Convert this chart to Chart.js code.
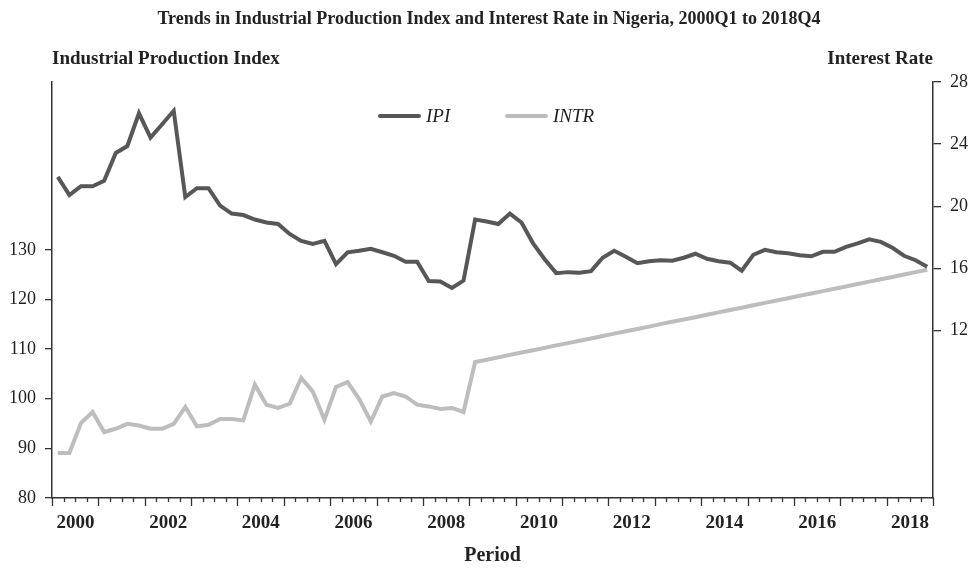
<!DOCTYPE html>
<html>
<head>
<meta charset="utf-8">
<title>IPI and Interest Rate, Nigeria</title>
<script src="https://cdn.jsdelivr.net/npm/chart.js@4.4.1/dist/chart.umd.min.js"></script>
<style>
  html, body { margin: 0; padding: 0; background: #ffffff; }
  #wrap { width: 979px; height: 572px; }
</style>
</head>
<body>
<div id="wrap"><canvas id="chart" width="979" height="572"></canvas></div>
<script>
// quarters 2000Q1 .. 2018Q4
const years = [2000, 2001, 2002, 2003, 2004, 2005, 2006, 2007, 2008, 2009,
  2010, 2011, 2012, 2013, 2014, 2015, 2016, 2017, 2018];
const quarterNames = ['Q1', 'Q2', 'Q3', 'Q4'];
const periods = [];
years.forEach((y) => quarterNames.forEach((q) => periods.push(y + q)));

// Industrial Production Index (left axis)
const ipi = [144.7, 141.0, 142.8, 142.8, 143.9, 149.5, 150.9, 157.5, 152.6, 155.3,
  158.0, 140.6, 142.4, 142.4, 138.9, 137.3, 137.0, 136.1, 135.5, 135.2,
  133.2, 131.8, 131.2, 131.8, 127.1, 129.5, 129.8, 130.2, 129.5, 128.8,
  127.6, 127.6, 123.7, 123.6, 122.3, 123.8, 136.1, 135.7, 135.2, 137.3,
  135.5, 131.3, 128.1, 125.3, 125.5, 125.4, 125.7, 128.4, 129.8, 128.6,
  127.3, 127.7, 127.9, 127.8, 128.4, 129.2, 128.2, 127.7, 127.4, 125.8,
  129.0, 130.0, 129.5, 129.3, 128.9, 128.7, 129.6, 129.6, 130.6, 131.3,
  132.1, 131.6, 130.4, 128.8, 127.9, 126.6];

// Interest rate (right axis)
const intr = [4.1, 4.1, 6.03, 6.74, 5.45, 5.66, 5.98, 5.87, 5.66, 5.66,
  5.98, 7.06, 5.81, 5.92, 6.29, 6.29, 6.2, 8.5, 7.21, 7.0,
  7.27, 8.93, 8.05, 6.24, 8.35, 8.67, 7.57, 6.13, 7.74, 7.96,
  7.74, 7.21, 7.1, 6.93, 7.0, 6.74, 9.96, 10.11, 10.26, 10.42,
  10.57, 10.72, 10.87, 11.03, 11.18, 11.33, 11.48, 11.64, 11.79, 11.94,
  12.09, 12.24, 12.40, 12.55, 12.70, 12.85, 13.01, 13.16, 13.31, 13.46,
  13.62, 13.77, 13.92, 14.07, 14.23, 14.38, 14.53, 14.68, 14.83, 14.99,
  15.14, 15.29, 15.44, 15.60, 15.75, 15.90];

const leftTicks = [80, 90, 100, 110, 120, 130];
const rightTicks = [12, 16, 20, 24, 28];

const serif = "'Liberation Serif', 'DejaVu Serif', serif";
const axisColor = '#333333';
const textColor = '#222222';

// quarter / year tick marks under the x axis
const xTickMarks = {
  id: 'xTickMarks',
  afterDraw(chart) {
    const x = chart.scales.x;
    const ctx = chart.ctx;
    const n = chart.data.labels.length;
    const step = x.width / n;
    ctx.save();
    ctx.strokeStyle = axisColor;
    ctx.lineWidth = 1.3;
    for (let b = 0; b <= n; b++) {
      const px = Math.round(x.left + b * step) + 0.5;
      const len = b % 4 === 0 ? 8 : 4;
      ctx.beginPath();
      ctx.moveTo(px, x.top);
      ctx.lineTo(px, x.top + len);
      ctx.stroke();
    }
    ctx.restore();
  }
};

// title, axis headers and the legend
const headers = {
  id: 'headers',
  afterDraw(chart) {
    const ctx = chart.ctx;
    const area = chart.chartArea;
    ctx.save();
    ctx.fillStyle = textColor;
    ctx.textBaseline = 'alphabetic';

    ctx.font = 'bold 18px ' + serif;
    ctx.textAlign = 'center';
    ctx.fillText('Trends in Industrial Production Index and Interest Rate in Nigeria, 2000Q1 to 2018Q4', 489, 24);

    ctx.font = 'bold 19px ' + serif;
    ctx.textAlign = 'left';
    ctx.fillText('Industrial Production Index', area.left, 64);
    ctx.textAlign = 'right';
    ctx.fillText('Interest Rate', area.right, 64);

    // legend
    const items = [
      { ds: chart.data.datasets[0], x: 380 },
      { ds: chart.data.datasets[1], x: 507 }
    ];
    ctx.font = 'italic 19px ' + serif;
    ctx.textAlign = 'left';
    items.forEach((it) => {
      ctx.strokeStyle = it.ds.borderColor;
      ctx.lineWidth = 4;
      ctx.lineCap = 'round';
      ctx.beginPath();
      ctx.moveTo(it.x, 116);
      ctx.lineTo(it.x + 39, 116);
      ctx.stroke();
      ctx.fillStyle = textColor;
      ctx.fillText(it.ds.label, it.x + 46, 122);
    });
    ctx.restore();
  }
};

const ctx = document.getElementById('chart').getContext('2d');
new Chart(ctx, {
  type: 'line',
  data: {
    labels: periods,
    datasets: [
      {
        label: 'IPI',
        data: ipi,
        yAxisID: 'y',
        borderColor: '#575757',
        borderWidth: 4,
        pointRadius: 0,
        tension: 0,
        fill: false
      },
      {
        label: 'INTR',
        data: intr,
        yAxisID: 'y1',
        borderColor: '#bdbdbd',
        borderWidth: 4,
        pointRadius: 0,
        tension: 0,
        fill: false
      }
    ]
  },
  options: {
    responsive: false,
    animation: false,
    devicePixelRatio: 1,
    layout: { padding: { top: 82, left: 0, right: 0, bottom: 0 } },
    plugins: {
      legend: { display: false },
      title: { display: false },
      tooltip: { enabled: false }
    },
    scales: {
      x: {
        type: 'category',
        offset: true,
        grid: { display: false, drawTicks: false },
        border: { display: true, color: axisColor, width: 1.5 },
        ticks: {
          autoSkip: false,
          maxRotation: 0,
          minRotation: 0,
          padding: 14,
          labelOffset: 6,
          color: textColor,
          font: { family: serif, size: 19, weight: 'bold' },
          callback: function (val, idx) {
            return idx % 8 === 1 ? this.getLabelForValue(val).slice(0, 4) : '';
          }
        },
        title: {
          display: true,
          text: 'Period',
          color: textColor,
          font: { family: serif, size: 20, weight: 'bold' },
          padding: { top: 0, bottom: 4 }
        },
        afterFit: (scale) => { scale.height = 74; }
      },
      y: {
        type: 'linear',
        position: 'left',
        min: 80,
        max: 163.8,
        grid: { drawOnChartArea: false, drawTicks: true, tickLength: 7, color: axisColor, lineWidth: 1.3 },
        border: { display: true, color: axisColor, width: 1.5 },
        ticks: {
          padding: 9,
          color: textColor,
          font: { family: serif, size: 18 }
        },
        afterBuildTicks: (scale) => { scale.ticks = leftTicks.map((v) => ({ value: v })); },
        afterFit: (scale) => { scale.width = 52; }
      },
      y1: {
        type: 'linear',
        position: 'right',
        min: 1.2,
        max: 28,
        grid: { drawOnChartArea: false, drawTicks: true, tickLength: 8, color: axisColor, lineWidth: 1.3 },
        border: { display: true, color: axisColor, width: 1.5 },
        ticks: {
          padding: 9,
          color: textColor,
          font: { family: serif, size: 18 }
        },
        afterBuildTicks: (scale) => { scale.ticks = rightTicks.map((v) => ({ value: v })); },
        afterFit: (scale) => { scale.width = 46; }
      }
    }
  },
  plugins: [xTickMarks, headers]
});
</script>
</body>
</html>
